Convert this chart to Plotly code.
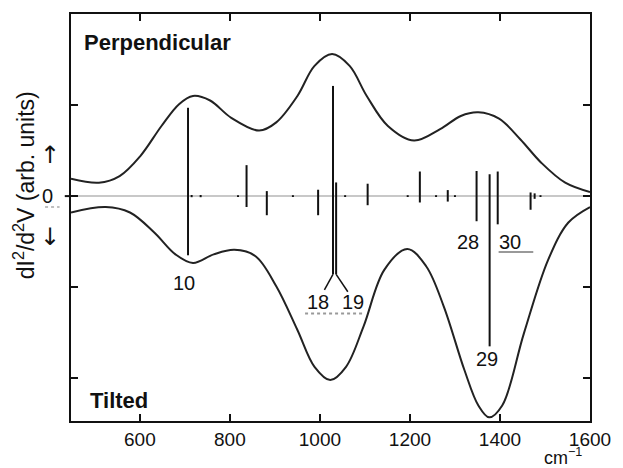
import plotly.graph_objects as go

# ---------------- data ----------------
# broadened spectra
perp_x = [447, 509, 555, 601, 648, 687, 718, 756, 803, 865, 903, 950, 988, 1027, 1066,
          1104, 1151, 1209, 1267, 1313, 1352, 1398, 1445, 1491, 1545, 1600]
perp_y = [0.19, 0.147, 0.22, 0.44, 0.77, 1.01, 1.10, 1.05, 0.86, 0.72, 0.81, 1.10, 1.43, 1.56, 1.43,
          1.10, 0.77, 0.61, 0.735, 0.88, 0.92, 0.85, 0.625, 0.37, 0.147, 0.044]

tilt_x = [447, 524, 578, 632, 679, 718, 764, 810, 857, 903, 950, 988, 1023, 1058, 1097,
          1143, 1194, 1236, 1275, 1321, 1352, 1376, 1405, 1453, 1507, 1552, 1600]
tilt_y = [-0.18, -0.12, -0.18, -0.40, -0.64, -0.735, -0.64, -0.59, -0.66, -0.99, -1.47, -1.875, -2.02,
          -1.875, -1.43, -0.81, -0.58, -0.77, -1.21, -1.91, -2.30, -2.43, -2.30, -1.51, -0.70, -0.29, -0.12]

# calculated modes: wavenumber, perpendicular intensity (up), tilted intensity (down)
mode_x    = [707, 715, 735, 818, 837, 882, 940, 996, 1029, 1036, 1056, 1106, 1195, 1222,
             1258, 1284, 1300, 1348, 1377, 1395, 1468, 1477, 1490]
mode_perp = [0.97, 0.012, 0.012, 0.01, 0.34, 0.055, 0.01, 0.07, 1.21, 0.15, 0.01, 0.136, 0.01, 0.27,
             0.01, 0.066, 0.01, 0.276, 0.24, 0.27, 0.04, 0.03, 0.01]
mode_tilt = [0.65, 0.012, 0.012, 0.01, 0.12, 0.21, 0.01, 0.21, 0.86, 0.86, 0.01, 0.10, 0.01, 0.07,
             0.01, 0.06, 0.01, 0.276, 1.65, 0.31, 0.15, 0.03, 0.01]

# mode number labels
label_text = ["10", "18", "19", "28", "29", "30"]
label_x    = [697, 996, 1073, 1329, 1371, 1423]
label_y    = [-0.95, -1.165, -1.165, -0.50, -1.79, -0.50]

x_ticks = [600, 800, 1000, 1200, 1400, 1600]
y_ticks = [-2, -1, 0, 1]
y_ticktext = ["", "", "0", ""]

# ---------------- figure ----------------
sx, sy = [], []
for x, up, dn in zip(mode_x, mode_perp, mode_tilt):
    sx += [x, x, None]
    sy += [up, -dn, None]

fig = go.Figure()
fig.add_trace(go.Scatter(x=perp_x, y=perp_y, mode="lines", line=dict(color="#222", width=2, shape="spline", smoothing=1.0),
                         hoverinfo="skip", showlegend=False))
fig.add_trace(go.Scatter(x=tilt_x, y=tilt_y, mode="lines", line=dict(color="#222", width=2, shape="spline", smoothing=1.0),
                         hoverinfo="skip", showlegend=False))
fig.add_trace(go.Scatter(x=sx, y=sy, mode="lines", line=dict(color="#111", width=2),
                         hoverinfo="skip", showlegend=False))

font = "Liberation Sans, Arial, Helvetica, sans-serif"

for t, x, y in zip(label_text, label_x, label_y):
    fig.add_annotation(x=x, y=y, text=t, showarrow=False, font=dict(family=font, size=20, color="#111"),
                       xanchor="center", yanchor="middle")

# connectors for 18/19
fig.add_shape(type="line", x0=mode_x[8], y0=-mode_tilt[8], x1=1010, y1=-1.03, line=dict(color="#111", width=1.5))
fig.add_shape(type="line", x0=mode_x[9], y0=-mode_tilt[9], x1=1062, y1=-1.05, line=dict(color="#111", width=1.5))
# gray underlines
fig.add_shape(type="line", x0=967, y0=-1.29, x1=1099, y1=-1.29, line=dict(color="#999", width=2, dash="dot"))
fig.add_shape(type="line", x0=1397, y0=-0.615, x1=1474, y1=-0.615, line=dict(color="#999", width=2))

# panel titles
fig.add_annotation(xref="paper", yref="paper", x=0.021, y=0.93, text="<b>Perpendicular</b>", showarrow=False,
                   font=dict(family=font, size=22, color="#111"), xanchor="left", yanchor="middle")
fig.add_annotation(xref="paper", yref="paper", x=0.033, y=0.05, text="<b>Tilted</b>", showarrow=False,
                   font=dict(family=font, size=22, color="#111"), xanchor="left", yanchor="middle")

# y-axis title and arrows
fig.add_annotation(xref="paper", yref="paper", x=-0.09, y=0.58, text="dI<sup>2</sup>/d<sup>2</sup>V (arb. units)",
                   textangle=-90, showarrow=False, font=dict(family=font, size=23, color="#111"),
                   xanchor="center", yanchor="middle")
fig.add_annotation(xref="paper", yref="y", x=-0.041, y=0.45, text="↑", showarrow=False,
                   font=dict(family="DejaVu Sans", size=24, color="#111"), xanchor="center", yanchor="middle")
fig.add_annotation(xref="paper", yref="y", x=-0.041, y=-0.45, text="↓", showarrow=False,
                   font=dict(family="DejaVu Sans", size=24, color="#111"), xanchor="center", yanchor="middle")
# outside tick at zero
fig.add_shape(type="line", xref="paper", yref="y", x0=-0.012, x1=0, y0=0, y1=0, line=dict(color="#111", width=2))
# gray squiggle marks near the axis label
fig.add_shape(type="line", xref="paper", yref="y", x0=-0.05, x1=-0.022, y0=-0.12, y1=-0.12,
              line=dict(color="#aaa", width=1.5, dash="dot"))

# x unit
fig.add_annotation(xref="paper", yref="paper", x=0.948, y=-0.118, text="cm<sup>−1</sup>", showarrow=False,
                   font=dict(family=font, size=18, color="#111"), xanchor="center", yanchor="bottom",
                   borderpad=0)

fig.update_layout(
    width=623, height=468,
    margin=dict(l=71, r=25, t=14, b=47),
    plot_bgcolor="white", paper_bgcolor="white",
    font=dict(family=font, size=19, color="#111"),
    xaxis=dict(range=[447, 1600], tickvals=x_ticks, ticks="inside", ticklen=7, tickwidth=2, tickcolor="#111",
               showline=True, linecolor="#111", linewidth=2, mirror="allticks", showgrid=False, zeroline=False,
               tickfont=dict(size=19)),
    yaxis=dict(range=[-2.47, 2.0], tickvals=y_ticks, ticktext=y_ticktext, ticks="inside", ticklen=7, tickwidth=2,
               tickcolor="#111", showline=True, linecolor="#111", linewidth=2, mirror="allticks", showgrid=False,
               zeroline=True, zerolinecolor="#c8c8c8", zerolinewidth=2, tickfont=dict(size=20),
               ticklabelstandoff=12),
)

fig.write_html("out.html")
